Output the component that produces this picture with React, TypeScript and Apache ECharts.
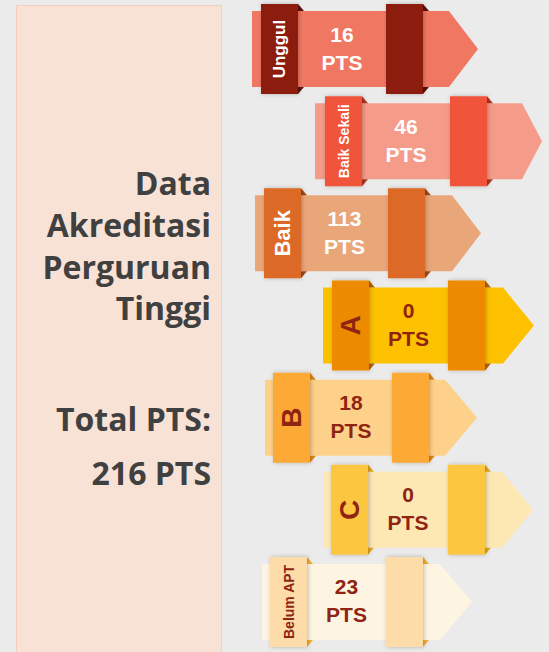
import React, { useEffect, useRef } from "react";
import * as echarts from "echarts";

// ---- data ----
const categories = ["Unggul", "Baik Sekali", "Baik", "A", "B", "C", "Belum APT"];
const values = [16, 46, 113, 0, 18, 0, 23];
const unitLabel = "PTS";
const titleLines = ["Data", "Akreditasi", "Perguruan", "Tinggi"];
const totalLabel = "Total PTS:";

// ---- layout / style (not data) ----
// [bodyStart, band1Left, band2Left, headStart, tip]
const rowLayout = [
  [252, 261, 386, 449, 478],
  [315, 325, 450, 522, 542],
  [255, 264, 388, 452, 481],
  [323, 332, 448, 503, 534],
  [265, 273, 392, 445, 477],
  [323, 331, 448, 502, 533],
  [262, 270, 386, 440, 472],
];
const bodyColors = ["#f07862", "#f59b8a", "#e9a679", "#fdc100", "#fdd18a", "#fde8b4", "#fdf5e1"];
const bandColors = ["#8c1e0e", "#f0553a", "#dc6b25", "#ec8b00", "#fcaa35", "#fdc640", "#fddcaa"];
const foldColors = ["#5e1007", "#b8321c", "#a54812", "#b56400", "#e08a10", "#e8a818", "#f0b030"];
const textColors = ["#ffffff", "#ffffff", "#ffffff", "#8e2411", "#8e2411", "#8e2411", "#8e2411"];
const labelSizes = [17, 14, 22, 28, 28, 28, 14];

export default function App() {
  const ref = useRef<HTMLDivElement>(null);
  useEffect(() => {
    document.body.style.margin = "0";
    const chart = echarts.init(ref.current!, null, { renderer: "svg" });
    const total = values.reduce((a, b) => a + b, 0);
    const BAND_W = 37;
    const BODY_H = 38;
    const BAND_H = 45;
    const FOLD = 6;

    const renderItem = (params: any, api: any) => {
      const i = params.dataIndex;
      const L = rowLayout[i];
      const cy = api.coord([0, i])[1];
      const px = (v: number) => api.coord([v, i])[0];
      const x0 = px(L[0]);
      const b1 = px(L[1]);
      const b2 = px(L[2]);
      const hs = px(L[3]);
      const tip = px(L[4]);
      const top = cy - BODY_H;
      const bot = cy + BODY_H;
      const bTop = cy - BAND_H;
      const bBot = cy + BAND_H;
      const children: any[] = [];
      children.push({
        type: "polygon",
        shape: { points: [[x0, top], [hs, top], [tip, cy], [hs, bot], [x0, bot]] },
        style: { fill: bodyColors[i] },
      });
      [b1, b2].forEach((bl) => {
        const br = bl + BAND_W;
        children.push({
          type: "polygon",
          shape: { points: [[br, bTop], [br + FOLD, top], [br, top]] },
          style: { fill: foldColors[i] },
        });
        children.push({
          type: "polygon",
          shape: { points: [[br, bot], [br + FOLD, bot], [br, bBot]] },
          style: { fill: foldColors[i] },
        });
        children.push({
          type: "rect",
          shape: { x: bl, y: bTop, width: BAND_W, height: BAND_H * 2 },
          style: {
            fill: bandColors[i],
            shadowBlur: 4,
            shadowColor: "rgba(0,0,0,0.25)",
            shadowOffsetX: 1,
          },
        });
      });
      children.push({
        type: "text",
        x: b1 + BAND_W / 2,
        y: cy,
        rotation: Math.PI / 2,
        style: {
          text: categories[i],
          fill: textColors[i],
          fontSize: labelSizes[i],
          fontWeight: "bold",
          fontFamily: "Liberation Sans, Arial, sans-serif",
          align: "center",
          verticalAlign: "middle",
        },
      });
      children.push({
        type: "text",
        x: (b1 + BAND_W + b2) / 2,
        y: cy - 1,
        style: {
          text: api.value(0) + "\n" + unitLabel,
          fill: textColors[i],
          fontSize: 21,
          lineHeight: 28,
          fontWeight: "bold",
          fontFamily: "Liberation Sans, Arial, sans-serif",
          align: "center",
          verticalAlign: "middle",
        },
      });
      return { type: "group", children };
    };

    const titleFont = {
      fontSize: 32,
      fontWeight: "bold",
      fontFamily: "Open Sans, sans-serif",
      fill: "#404040",
      align: "right",
      verticalAlign: "middle",
    };
    const titleY = [182, 224, 266, 307];

    chart.setOption({
      animation: false,
      backgroundColor: "#ebebeb",
      grid: { left: 0, width: 549, top: 3, height: 645 },
      xAxis: { type: "value", min: 0, max: 549, show: false },
      yAxis: { type: "category", data: categories, inverse: true, show: false },
      graphic: [
        {
          type: "rect",
          z: -10,
          shape: { x: 16.5, y: 5.5, width: 205, height: 660 },
          style: { fill: "#f8e2d5", stroke: "#f2cfbb", lineWidth: 1 },
        },
        ...titleLines.map((t, k) => ({
          type: "text",
          x: 211,
          y: titleY[k],
          style: { ...titleFont, text: t },
        })),
        { type: "text", x: 211, y: 418, style: { ...titleFont, text: totalLabel } },
        { type: "text", x: 211, y: 472, style: { ...titleFont, text: total + " " + unitLabel } },
      ],
      series: [
        {
          type: "custom",
          renderItem,
          data: values.map((v, i) => [v, i]),
          encode: { x: 0, y: 1 },
        },
      ],
    });
    return () => chart.dispose();
  }, []);
  return <div ref={ref} style={{ width: 549, height: 652 }} />;
}
